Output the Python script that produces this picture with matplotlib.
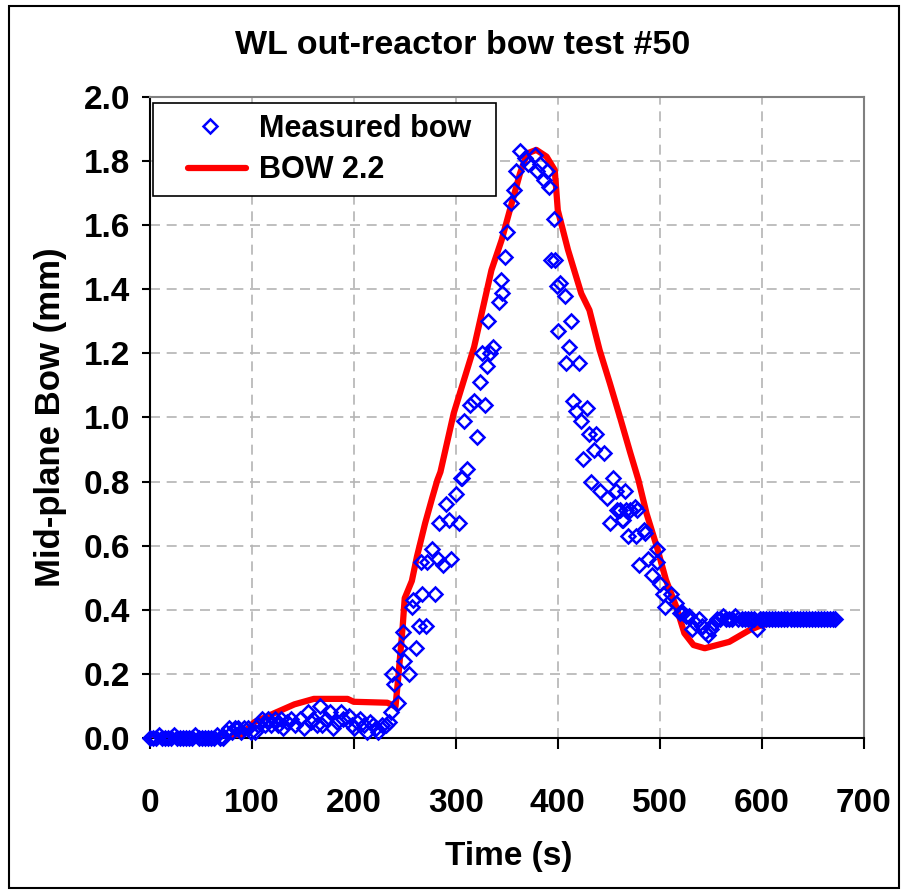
import numpy as np
import matplotlib
matplotlib.use("Agg")
import matplotlib.pyplot as plt
from matplotlib.patches import Rectangle
from matplotlib.legend_handler import HandlerLine2D

plt.rcParams["font.family"] = ["Liberation Sans", "DejaVu Sans"]
plt.rcParams["font.weight"] = "bold"

# measured bow (time in s, bow in mm)
t_meas = [0, 3, 6, 9, 12, 15, 18, 21, 24, 27, 30, 33, 36, 39, 42, 45, 48, 51, 54, 57,
          60, 63, 66, 69, 72,
          75, 78, 81, 84, 87, 90, 93, 96, 99,
          103, 106, 110, 113, 116, 119, 123, 126, 129, 131, 135, 139, 143, 147, 151,
          155, 158, 160, 164, 167, 169, 173, 177, 180, 184, 188, 190, 195, 198, 200,
          203, 206, 210, 213, 216, 219, 222, 224, 228, 232, 235, 237,
          238, 240, 243, 245, 248, 249, 254, 257, 258, 261, 264, 266, 267, 271, 272,
          277, 280, 283, 284, 288, 290, 293, 295, 300, 303, 305,
          306, 308, 311, 314, 318, 321, 324, 326, 329, 331, 332, 334, 337, 342, 344,
          345, 348, 350, 354, 357, 359, 363, 368, 371, 378, 380, 383, 386, 389, 391,
          393, 396, 397, 399, 400, 402, 407, 408, 411, 413, 415, 418, 421, 423, 425,
          429, 431, 433, 435, 437, 441, 445, 448, 451, 454, 457, 458, 461, 463, 464,
          466, 467, 469, 471, 476, 477, 478, 480, 484, 485, 488, 492, 497, 497, 500,
          503, 505, 511, 516, 520, 523, 526, 529, 531, 534, 538, 541, 544, 547, 550,
          553, 556, 559, 562, 565, 568, 571, 574, 577, 580, 583, 586, 589, 592, 595,
          598, 601, 604, 607, 610, 613, 616, 619, 622, 625, 628, 631, 634, 637, 640,
          643, 646, 649, 652, 655, 658, 661, 664, 667, 670, 672]
bow_meas = [0.00, 0.00, 0.00, 0.01, 0.00, 0.00, 0.00, 0.00, 0.01, 0.00, 0.00, 0.00, 0.00, 0.00, 0.00, 0.01, 0.00, 0.00, 0.00, 0.00,
            0.00, 0.00, 0.01, 0.00, 0.00,
            0.02, 0.03, 0.02, 0.03, 0.03, 0.02, 0.03, 0.03, 0.02,
            0.02, 0.04, 0.06, 0.04, 0.06, 0.04, 0.06, 0.04, 0.06, 0.03, 0.05, 0.06, 0.04, 0.06, 0.03,
            0.08, 0.05, 0.06, 0.04, 0.10, 0.04, 0.06, 0.08, 0.03, 0.05, 0.08, 0.06, 0.07, 0.04, 0.03,
            0.05, 0.06, 0.04, 0.02, 0.05, 0.04, 0.03, 0.02, 0.04, 0.04, 0.05, 0.08,
            0.20, 0.17, 0.11, 0.28, 0.33, 0.24, 0.20, 0.41, 0.43, 0.28, 0.35, 0.55, 0.45, 0.35, 0.55,
            0.59, 0.45, 0.56, 0.67, 0.54, 0.73, 0.68, 0.56, 0.76, 0.67, 0.81,
            0.81, 0.99, 0.84, 1.04, 1.05, 0.94, 1.11, 1.20, 1.04, 1.16, 1.30, 1.20, 1.22, 1.36, 1.43,
            1.39, 1.50, 1.58, 1.67, 1.71, 1.77, 1.83, 1.81, 1.79, 1.82, 1.77, 1.79, 1.74, 1.77, 1.72,
            1.49, 1.62, 1.49, 1.41, 1.27, 1.42, 1.38, 1.17, 1.22, 1.30, 1.05, 1.02, 1.17, 0.99, 0.87,
            1.03, 0.95, 0.80, 0.90, 0.95, 0.77, 0.89, 0.75, 0.67, 0.81, 0.77, 0.71, 0.71, 0.68, 0.68,
            0.77, 0.71, 0.63, 0.71, 0.72, 0.63, 0.71, 0.54, 0.65, 0.64, 0.56, 0.51, 0.59, 0.55, 0.48,
            0.45, 0.41, 0.45, 0.42, 0.39, 0.39, 0.38, 0.38, 0.34, 0.36, 0.37, 0.35, 0.33, 0.32, 0.34,
            0.36, 0.37, 0.37, 0.38, 0.37, 0.37, 0.37, 0.38, 0.37, 0.37, 0.37, 0.37, 0.37, 0.37, 0.34,
            0.37, 0.37, 0.37, 0.37, 0.37, 0.37, 0.37, 0.37, 0.37, 0.37, 0.37, 0.37, 0.37, 0.37, 0.37,
            0.37, 0.37, 0.37, 0.37, 0.37, 0.37, 0.37, 0.37, 0.37, 0.37, 0.37]

# BOW 2.2 model
t_model = [0, 75, 90, 103, 122, 142, 161, 194, 200, 233, 241, 244, 248, 250, 257, 262,
           270, 277, 282, 285, 298, 318, 335, 345, 353, 363, 370, 379, 389, 397, 400,
           410, 423, 431, 441, 451, 461, 471, 479, 487, 497, 506, 516, 524, 533, 544,
           556, 568, 588, 598, 620, 670]
bow_model = [0.0, 0.0, 0.01, 0.05, 0.077, 0.105, 0.122, 0.122, 0.113, 0.11, 0.098, 0.20,
             0.347, 0.436, 0.49, 0.566, 0.67, 0.75, 0.805, 0.83, 1.013, 1.22, 1.46, 1.554,
             1.647, 1.762, 1.824, 1.835, 1.814, 1.772, 1.647, 1.523, 1.387, 1.335, 1.21,
             1.107, 1.0, 0.89, 0.805, 0.70, 0.597, 0.493, 0.41, 0.327, 0.29, 0.28, 0.29,
             0.30, 0.337, 0.35, 0.368, 0.37]

fig = plt.figure(figsize=(9.03, 8.9), dpi=100)
ax = fig.add_axes([0.1656, 0.1708, 0.7912, 0.7202])

# 实测点画在模型曲线上面
meas_line, = ax.plot(t_meas, bow_meas, linestyle="none", marker="D", markersize=7.5,
                     markerfacecolor="none", markeredgecolor="#0000FF", markeredgewidth=1.8,
                     label="Measured bow", zorder=4, clip_on=False)
model_line, = ax.plot(t_model, bow_model, color="#FF0000", linewidth=4.5,
                      solid_capstyle="round", label="BOW 2.2", zorder=3)

ax.set_xlim(0, 700)
ax.set_ylim(0, 2.0)
ax.set_xticks(np.arange(0, 701, 100))
ax.set_yticks(np.arange(0, 2.01, 0.2))
ax.set_yticklabels([f"{v:.1f}" for v in np.arange(0, 2.01, 0.2)])
ax.tick_params(axis="x", direction="out", length=8, width=1.5, labelsize=24, pad=28)
ax.tick_params(axis="y", direction="out", length=6, width=1.5, labelsize=24, pad=8)
for lab in ax.get_xticklabels() + ax.get_yticklabels():
    lab.set_fontweight("bold")

ax.grid(True, color="#B4B4B4", linestyle=(0, (6, 4)), linewidth=1.2)
ax.set_axisbelow(True)
for side in ["left", "bottom"]:
    ax.spines[side].set_color("black")
    ax.spines[side].set_linewidth(1.5)
for side in ["top", "right"]:
    ax.spines[side].set_color("#808080")
    ax.spines[side].set_linewidth(1.5)

ax.set_xlabel("Time (s)", fontsize=24, fontweight="bold", va="center")
ax.xaxis.set_label_coords(0.503, (738 - 857) / 641)
ax.set_ylabel("Mid-plane Bow (mm)", fontsize=25, fontweight="bold", va="center")
ax.yaxis.set_label_coords((50 - 149.5) / 714.5, 0.5)
fig.text(0.512, 0.949, "WL out-reactor bow test #50", ha="center", va="center",
         fontsize=24.5, fontweight="bold")

leg = ax.legend(loc="upper left", bbox_to_anchor=(0.005, 0.5, 0.48, 0.4906),
                mode="expand", fontsize=22, frameon=True, fancybox=False,
                edgecolor="black", framealpha=1, borderpad=0.35,
                handlelength=3.0, handletextpad=0.1, labelspacing=0.38,
                borderaxespad=0,
                handler_map={meas_line: HandlerLine2D(numpoints=1),
                             model_line: HandlerLine2D(numpoints=2, xpad=0.5)})
leg.set_zorder(6)
leg.get_frame().set_linewidth(1.2)
for txt in leg.get_texts():
    txt.set_fontweight("bold")

# 图表外框
fig.patches.append(Rectangle((9 / 903, 2 / 890), 890 / 903, 882 / 890,
                             transform=fig.transFigure, fill=False,
                             edgecolor="black", linewidth=1.5))

fig.savefig("out.png", dpi=100)
